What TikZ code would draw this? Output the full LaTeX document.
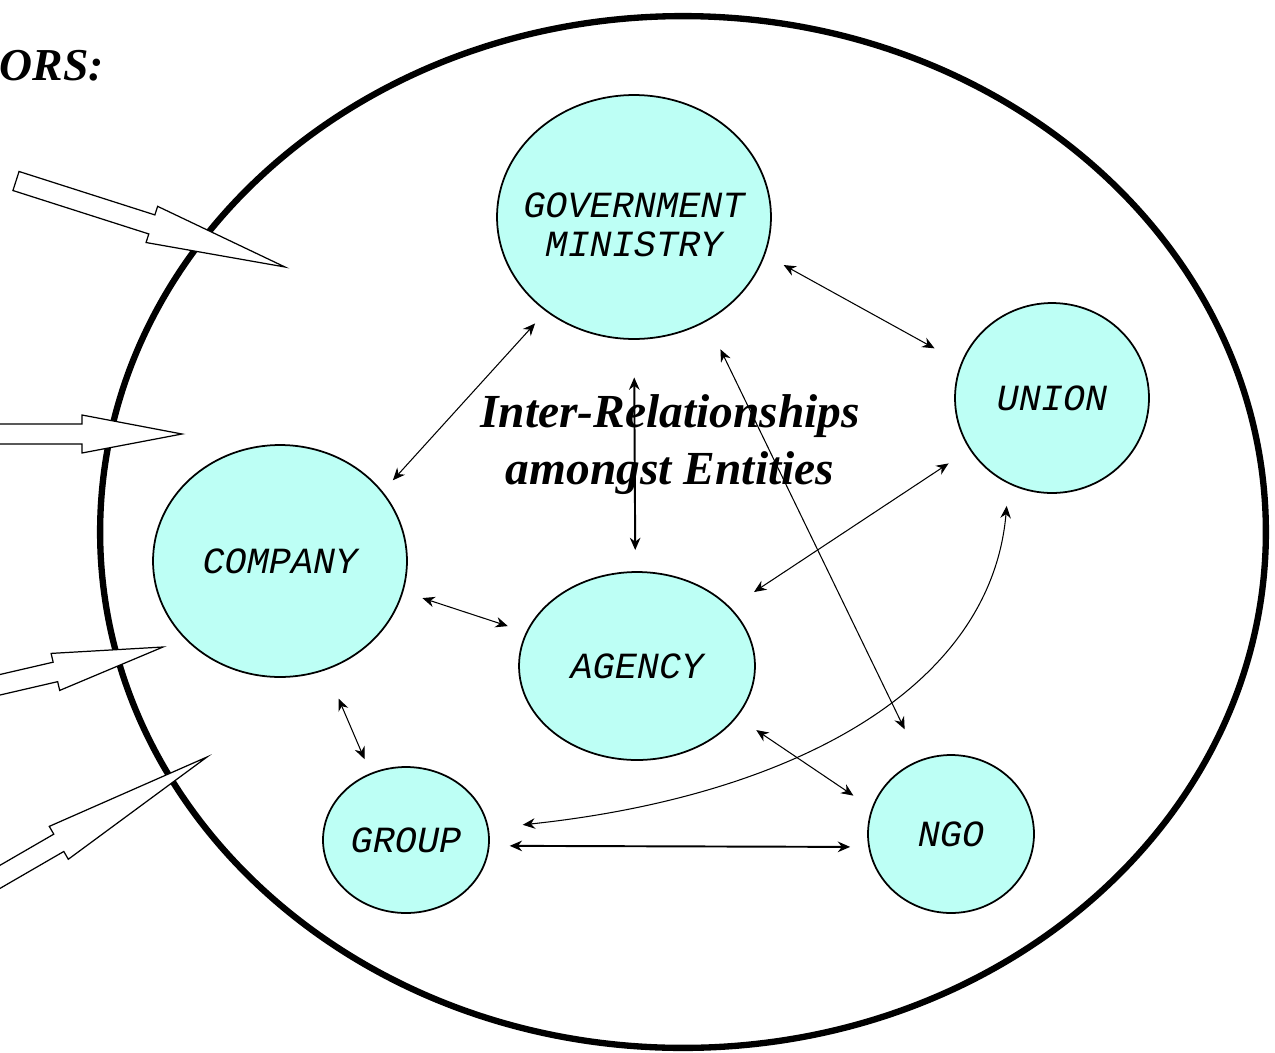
\documentclass[tikz,border=0pt]{standalone}
\usepackage{fontspec}
\setmainfont{Liberation Serif}
\newfontfamily\entityfont{Liberation Mono}
\usetikzlibrary{arrows.meta,calc,shapes.geometric}

\definecolor{entitycyan}{RGB}{189,255,245}

\tikzset{
    entity/.style={ellipse, draw, line width=1pt, fill=entitycyan, inner sep=0pt, outer sep=0pt,
        align=center, font=\entityfont\itshape\fontsize{21}{22}\selectfont},
    link/.style={{Stealth[length=7pt,width=6pt]}-{Stealth[length=7pt,width=6pt]}, line width=0.6pt},
    heavylink/.style={link, line width=1.1pt},
    inflow/.style={draw, fill=white, line width=0.7pt, line join=miter}
}

\newcommand{\inflow}[3]{%
    \draw[inflow] ($(#1)!0.2cm!90:(#2)$)
        -- ($(#1)!#3!(#2)!0.2cm!90:(#2)$) -- ($(#1)!#3!(#2)!0.38cm!90:(#2)$)
        -- (#2)
        -- ($(#1)!#3!(#2)!0.38cm!-90:(#2)$) -- ($(#1)!#3!(#2)!0.2cm!-90:(#2)$)
        -- ($(#1)!0.2cm!-90:(#2)$) -- cycle;}
\newcommand{\entityline}[1]{\raisebox{-0.4cm}[0pt][0pt]{\makebox[0pt]{#1}}}

\begin{document}
\begin{tikzpicture}[x=0.02cm, y=-0.02cm]
    \useasboundingbox (0,0) rectangle (1275,1052);
    \clip (0,0) rectangle (1275,1052);

    \node[font=\bfseries\itshape\fontsize{26}{30}\selectfont, anchor=base east, inner sep=0pt] (actors) at (104,80) {ORS:};

    \draw[line width=3.6pt] (683,532) ellipse [x radius=11.66cm, y radius=10.32cm];

    \inflow{16,181}{285,267}{0.505}
    \inflow{-20,434}{182,434}{0.505}
    \inflow{-40,694}{163,647}{0.47}
    \inflow{-40,900}{207,757}{0.40}

    \node[entity, minimum width=5.48cm, minimum height=4.88cm] (gov) at (634,217) {\entityline{GOVERNMENT}\\\entityline{MINISTRY}};
    \node[entity, minimum width=3.88cm, minimum height=3.8cm] (union) at (1052,398) {UNION};
    \node[entity, minimum width=5.08cm, minimum height=4.64cm] (company) at (280,561) {COMPANY};
    \node[entity, minimum width=4.72cm, minimum height=3.76cm] (agency) at (637,666) {AGENCY};
    \node[entity, minimum width=3.32cm, minimum height=2.92cm] (group) at (406,840) {GROUP};
    \node[entity, minimum width=3.32cm, minimum height=3.16cm] (ngo) at (951,834) {NGO};

    \node[font=\bfseries\itshape\fontsize{27}{32.5}\selectfont, align=center, inner sep=0pt] (title) at (670,445) {Inter-Relationships\\amongst Entities};

    \draw[link, shorten <=0.44cm, shorten >=0.62cm] (gov.-16.9) -- (union.159.3);
    \draw[link, shorten <=0.34cm, shorten >=0.32cm] (gov.-133.9) -- (company.34.1);
    \draw[link, shorten <=0.64cm, shorten >=0.70cm] (gov.-55.3) -- (ngo.113.7);
    \draw[heavylink, shorten <=0.77cm, shorten >=0.44cm] (gov.-90) -- (agency.91.5);
    \draw[link, shorten <=0.52cm, shorten >=0.58cm] (union.-148.4) -- (agency.32.3);
    \draw[link, shorten <=0.42cm, shorten >=0.40cm] (company.-14.1) -- (agency.163.3);
    \draw[link, shorten <=0.64cm, shorten >=0.32cm] (company.-67.6) -- (group.118.8);
    \draw[link, shorten <=0.48cm, shorten >=0.46cm] (agency.-27.3) -- (ngo.162.9);
    \draw[heavylink, shorten <=0.42cm, shorten >=0.38cm] (group.-4.9) -- (ngo.-171.6);
    \draw[link, shorten <=0.70cm, shorten >=0.46cm] (group.8.8) .. controls +(302,-32) and +(-18,207) .. (union.-117.6);
\end{tikzpicture}
\end{document}
